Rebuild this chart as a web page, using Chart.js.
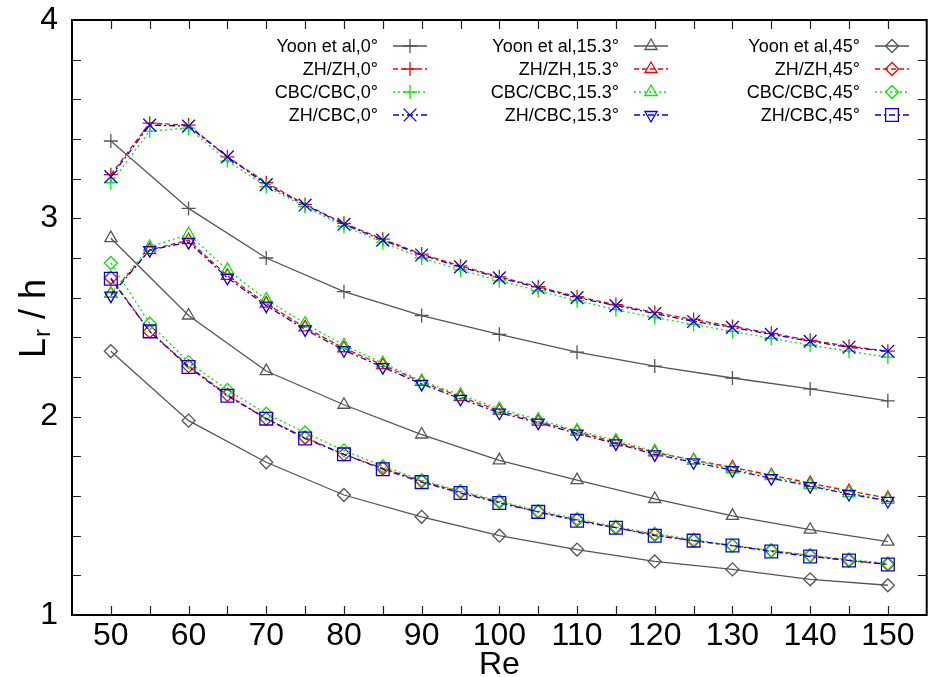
<!DOCTYPE html>
<html>
<head>
<meta charset="utf-8">
<script src="https://cdn.jsdelivr.net/npm/chart.js@4.4.0/dist/chart.umd.min.js"></script>
<style>
body { margin: 0; background: #fff; }
#wrap { width: 937px; height: 677px; position: relative; }
</style>
</head>
<body>
<div id="wrap"><canvas id="myChart"></canvas></div>
<script>
// Re values
var reYoon = [50, 60, 70, 80, 90, 100, 110, 120, 130, 140, 150];
var reSim = [50, 55, 60, 65, 70, 75, 80, 85, 90, 95, 100, 105, 110, 115, 120, 125, 130, 135, 140, 145, 150];

// 0 deg
var yoon0 = [3.39, 3.05, 2.80, 2.63, 2.51, 2.415, 2.325, 2.255, 2.195, 2.14, 2.08];
var zhzh0 = [3.22, 3.48, 3.47, 3.31, 3.18, 3.07, 2.975, 2.895, 2.82, 2.76, 2.705, 2.655, 2.605, 2.565, 2.525, 2.49, 2.455, 2.42, 2.385, 2.355, 2.33];
var cbc0 = [3.18, 3.44, 3.455, 3.29, 3.16, 3.06, 2.96, 2.88, 2.80, 2.74, 2.685, 2.635, 2.585, 2.54, 2.50, 2.465, 2.43, 2.395, 2.36, 2.33, 2.30];
var zhcbc0 = [3.21, 3.47, 3.465, 3.31, 3.17, 3.067, 2.97, 2.89, 2.815, 2.755, 2.70, 2.65, 2.60, 2.56, 2.52, 2.48, 2.45, 2.415, 2.38, 2.35, 2.33];

// 15.3 deg
var yoon15 = [2.90, 2.51, 2.23, 2.06, 1.91, 1.78, 1.68, 1.585, 1.50, 1.43, 1.37];
var zhzh15 = [2.62, 2.84, 2.89, 2.71, 2.57, 2.45, 2.345, 2.26, 2.175, 2.10, 2.03, 1.975, 1.925, 1.87, 1.82, 1.78, 1.745, 1.705, 1.665, 1.625, 1.59];
var cbc15 = [2.62, 2.855, 2.92, 2.74, 2.59, 2.47, 2.36, 2.27, 2.18, 2.11, 2.04, 1.985, 1.93, 1.88, 1.825, 1.78, 1.735, 1.70, 1.655, 1.615, 1.58];
var zhcbc15 = [2.61, 2.84, 2.88, 2.70, 2.56, 2.44, 2.335, 2.25, 2.165, 2.09, 2.02, 1.97, 1.915, 1.865, 1.81, 1.77, 1.73, 1.69, 1.65, 1.61, 1.575];

// 45 deg
var yoon45 = [2.33, 1.98, 1.77, 1.605, 1.495, 1.40, 1.33, 1.27, 1.23, 1.18, 1.15];
var zhzh45 = [2.70, 2.43, 2.255, 2.11, 1.99, 1.895, 1.81, 1.74, 1.675, 1.62, 1.57, 1.52, 1.48, 1.44, 1.405, 1.375, 1.35, 1.325, 1.30, 1.275, 1.255];
var cbc45 = [2.775, 2.47, 2.275, 2.135, 2.015, 1.92, 1.83, 1.75, 1.68, 1.625, 1.575, 1.525, 1.485, 1.445, 1.41, 1.38, 1.35, 1.325, 1.30, 1.28, 1.26];
var zhcbc45 = [2.695, 2.43, 2.25, 2.105, 1.99, 1.89, 1.81, 1.735, 1.67, 1.615, 1.565, 1.52, 1.475, 1.44, 1.40, 1.375, 1.35, 1.32, 1.295, 1.275, 1.255];

var GREY = '#555555', RED = '#ff0000', GREEN = '#00ee00', BLUE = '#0000ff';
var SOLID = [], DASH = [5, 3], DOT = [2, 3], DASHDOT = [6, 3, 2, 3];
var FONT = '"Liberation Sans", Arial, sans-serif';

function series(label, xs, ys, color, dash, style, radius, rot) {
    return {
        label: label,
        data: xs.map(function (x, i) { return { x: x, y: ys[i] }; }),
        borderColor: color,
        borderWidth: 1.3,
        borderDash: dash,
        pointStyle: style,
        pointRadius: radius,
        pointRotation: rot || 0,
        pointBorderColor: color,
        pointBackgroundColor: 'rgba(0,0,0,0)',
        pointBorderWidth: 1.3,
        tension: 0,
        fill: false
    };
}

var datasets = [
    series('Yoon et al,0°', reYoon, yoon0, GREY, SOLID, 'cross', 7),
    series('ZH/ZH,0°', reSim, zhzh0, RED, DASH, 'cross', 7),
    series('CBC/CBC,0°', reSim, cbc0, GREEN, DOT, 'cross', 7),
    series('ZH/CBC,0°', reSim, zhcbc0, BLUE, DASHDOT, 'crossRot', 9),
    series('Yoon et al,15.3°', reYoon, yoon15, GREY, SOLID, 'triangle', 7),
    series('ZH/ZH,15.3°', reSim, zhzh15, RED, DASH, 'triangle', 7),
    series('CBC/CBC,15.3°', reSim, cbc15, GREEN, DOT, 'triangle', 7),
    series('ZH/CBC,15.3°', reSim, zhcbc15, BLUE, DASHDOT, 'triangle', 7, 180),
    series('Yoon et al,45°', reYoon, yoon45, GREY, SOLID, 'rectRot', 6.5),
    series('ZH/ZH,45°', reSim, zhzh45, RED, DASH, 'rectRot', 6.5),
    series('CBC/CBC,45°', reSim, cbc45, GREEN, DOT, 'rectRot', 6.5),
    series('ZH/CBC,45°', reSim, zhcbc45, BLUE, DASHDOT, 'rect', 9)
];
// later series on top, like gnuplot
datasets.forEach(function (d, i) { d.order = -i; });

var legendColX = [378, 619, 860];
var legendRowY = [46, 69, 92, 115];

function drawMarker(ctx, d, x, y) {
    if (Chart.helpers && Chart.helpers.drawPoint) {
        Chart.helpers.drawPoint(ctx, {
            pointStyle: d.pointStyle, rotation: d.pointRotation,
            radius: d.pointRadius, borderWidth: d.pointBorderWidth
        }, x, y);
    }
}

var frame = {
    id: 'frame',
    afterDraw: function (chart) {
        var ctx = chart.ctx, a = chart.chartArea;
        var xs = chart.scales.x, ys = chart.scales.y;
        ctx.save();
        // inward ticks
        ctx.strokeStyle = '#222';
        ctx.lineWidth = 1.2;
        ctx.setLineDash([]);
        ctx.beginPath();
        xs.ticks.forEach(function (t) {
            if (t.value <= xs.min || t.value >= xs.max) return;
            var px = Math.round(xs.getPixelForValue(t.value)) + 0.5;
            ctx.moveTo(px, a.bottom); ctx.lineTo(px, a.bottom - 9);
            ctx.moveTo(px, a.top); ctx.lineTo(px, a.top + 9);
        });
        ys.ticks.forEach(function (t) {
            if (t.value <= ys.min + 1e-6 || t.value >= ys.max - 1e-6) return;
            var py = Math.round(ys.getPixelForValue(t.value)) + 0.5;
            ctx.moveTo(a.left, py); ctx.lineTo(a.left + 9, py);
            ctx.moveTo(a.right, py); ctx.lineTo(a.right - 9, py);
        });
        ctx.stroke();
        // frame
        ctx.strokeStyle = '#000';
        ctx.lineWidth = 2;
        ctx.strokeRect(a.left, a.top, a.right - a.left, a.bottom - a.top);

        // axis titles
        ctx.fillStyle = '#000';
        ctx.font = '32px ' + FONT;
        ctx.textAlign = 'center';
        ctx.textBaseline = 'alphabetic';
        ctx.fillText('Re', (a.left + a.right) / 2, 674);

        ctx.save();
        ctx.translate(0, 319);
        ctx.rotate(-Math.PI / 2);
        ctx.textAlign = 'left';
        var fBig = '36px ' + FONT, fSub = '24px ' + FONT;
        ctx.font = fBig; var wL = ctx.measureText('L').width;
        var wRest = ctx.measureText(' / h').width;
        ctx.font = fSub; var wr = ctx.measureText('r').width;
        var x0 = -(wL + wr + wRest) / 2;
        ctx.font = fBig; ctx.fillText('L', x0, 45);
        ctx.font = fSub; ctx.fillText('r', x0 + wL + 1, 50);
        ctx.font = fBig; ctx.fillText(' / h', x0 + wL + wr + 1, 45);
        ctx.restore();

        // key
        ctx.font = '18px ' + FONT;
        ctx.textBaseline = 'middle';
        chart.data.datasets.forEach(function (d, i) {
            var cx = legendColX[Math.floor(i / 4)], cy = legendRowY[i % 4];
            ctx.fillStyle = '#000';
            ctx.textAlign = 'right';
            ctx.fillText(d.label, cx, cy + 1);
            ctx.strokeStyle = d.borderColor;
            ctx.lineWidth = d.borderWidth;
            ctx.setLineDash(d.borderDash);
            ctx.beginPath();
            ctx.moveTo(cx + 15, cy); ctx.lineTo(cx + 49, cy);
            ctx.stroke();
            ctx.setLineDash([]);
            ctx.fillStyle = 'rgba(0,0,0,0)';
            ctx.lineWidth = d.pointBorderWidth;
            drawMarker(ctx, d, cx + 32, cy);
        });
        ctx.restore();
    }
};

new Chart(document.getElementById('myChart'), {
    type: 'line',
    data: { datasets: datasets },
    options: {
        responsive: true,
        maintainAspectRatio: false,
        animation: false,
        layout: { padding: { top: 20, right: -3, left: 0, bottom: 0 } },
        plugins: { legend: { display: false }, tooltip: { enabled: false } },
        scales: {
            x: {
                type: 'linear', min: 45, max: 155,
                afterFit: function (s) {
                    s.height = 62;
                    s.paddingLeft = 0; s.paddingRight = 0;
                },
                grid: { display: false, drawTicks: false },
                border: { display: false },
                ticks: {
                    stepSize: 5, autoSkip: false, maxRotation: 0, padding: 2,
                    color: '#000', font: { family: FONT, size: 32 },
                    callback: function (v) { return v % 10 === 0 ? String(v) : ''; }
                }
            },
            y: {
                type: 'linear', min: 1, max: 4,
                afterFit: function (s) {
                    s.width = 72;
                    s.paddingTop = 0; s.paddingBottom = 0;
                },
                grid: { display: false, drawTicks: false },
                border: { display: false },
                ticks: {
                    stepSize: 0.2, autoSkip: false, padding: 14,
                    color: '#000', font: { family: FONT, size: 32 },
                    callback: function (v) {
                        return Math.abs(v - Math.round(v)) < 1e-6 ? String(Math.round(v)) : '';
                    }
                }
            }
        }
    },
    plugins: [frame]
});
</script>
</body>
</html>
